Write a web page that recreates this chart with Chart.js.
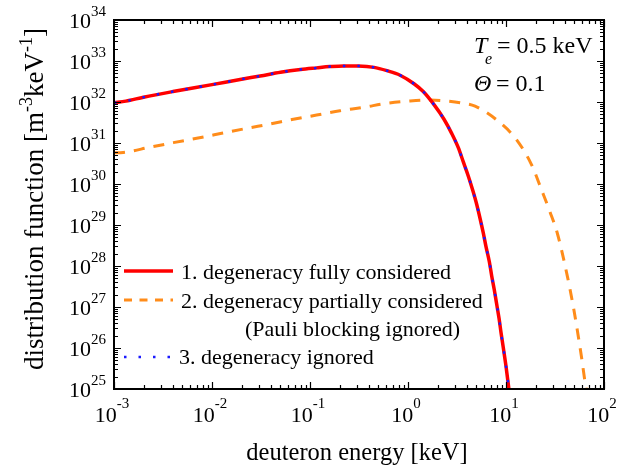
<!DOCTYPE html>
<html><head><meta charset="utf-8">
<script src="https://cdn.jsdelivr.net/npm/chart.js@4/dist/chart.umd.min.js"></script>
<style>html,body{margin:0;padding:0;background:#fff;}canvas{display:block;}</style>
</head><body>
<canvas id="c" width="639" height="470"></canvas>
<script>
// ---- data ----
const energyFull = [0.001, 0.00132, 0.002, 0.004, 0.01, 0.02, 0.031, 0.05, 0.08, 0.117, 0.16, 0.22, 0.31, 0.45, 0.61, 0.83, 1.16, 1.43, 1.85, 2.33, 2.79, 3.26, 3.66, 4.12, 4.57, 5.02, 5.43, 5.87, 6.25, 6.76, 7.14, 7.6, 8.03, 8.49, 8.9, 9.37, 10.0, 10.7, 11.2];
const fFull = [9.6e31, 1.05e32, 1.31e32, 1.8e32, 2.65e32, 3.6e32, 4.3e32, 5.3e32, 6.2e32, 6.8e32, 7.3e32, 7.6e32, 7.55e32, 7.0e32, 5.8e32, 4.5e32, 2.75e32, 1.8e32, 8.5e31, 3.8e31, 1.72e31, 7.7e30, 3.5e30, 1.57e30, 7.1e29, 3.2e29, 1.46e29, 6.3e28, 2.96e28, 1.27e28, 5.8e27, 2.6e27, 1.18e27, 5.3e26, 2.36e26, 1.04e26, 3.6e25, 1.0e25, 4.0e24];
const energyPartial = [0.001, 0.00124, 0.00233, 0.00403, 0.00698, 0.01256, 0.0226, 0.039, 0.0676, 0.117, 0.202, 0.35, 0.607, 1.05, 1.68, 2.48, 3.5, 4.83, 8.34, 12.9, 18.3, 23.1, 28.1, 33.4, 42.3, 48.7, 52.6, 59.2, 64, 66, 70];
const fPartial = [5.8e30, 5.9e30, 7.9e30, 1.02e31, 1.3e31, 1.72e31, 2.28e31, 2.9e31, 3.8e31, 4.8e31, 6.1e31, 7.4e31, 9.3e31, 1.06e32, 1.12e32, 1.06e32, 9.5e31, 7.9e31, 3.4e31, 1.18e31, 2.9e30, 7.1e29, 2.1e29, 6.3e28, 5.6e27, 1.0e27, 3.4e26, 5.6e25, 1.5e25, 1.0e25, 3.0e24];
const energyIgnored = [0.001, 0.00132, 0.002, 0.004, 0.01, 0.02, 0.031, 0.05, 0.08, 0.117, 0.16, 0.22, 0.31, 0.45, 0.61, 0.83, 1.16, 1.43, 1.85, 2.33, 2.79, 3.26, 3.66, 4.12, 4.57, 5.02, 5.43, 5.87, 6.25, 6.76, 7.14, 7.6, 8.03, 8.49, 8.9, 9.37, 10.0, 10.7, 11.2];
const fIgnored = [9.6e31, 1.05e32, 1.31e32, 1.8e32, 2.65e32, 3.6e32, 4.3e32, 5.3e32, 6.2e32, 6.8e32, 7.3e32, 7.6e32, 7.55e32, 7.0e32, 5.8e32, 4.5e32, 2.75e32, 1.8e32, 8.5e31, 3.8e31, 1.72e31, 7.7e30, 3.5e30, 1.57e30, 7.1e29, 3.2e29, 1.46e29, 6.3e28, 2.96e28, 1.27e28, 5.8e27, 2.6e27, 1.18e27, 5.3e26, 2.36e26, 1.04e26, 3.6e25, 1.0e25, 4.0e24];
const xTickExponents = [-3, -2, -1, 0, 1, 2];
const yTickExponents = [25, 26, 27, 28, 29, 30, 31, 32, 33, 34];
const seriesLabels = ["1. degeneracy fully considered", "2. degeneracy partially considered", "(Pauli blocking ignored)", "3. degeneracy ignored"];
const xTitle = "deuteron energy [keV]";
const yTitleParts = [["distribution function [m", false], ["-3", true], ["keV", false], ["-1", true], ["]", false]];

const RED = '#ff0000', ORANGE = '#ff8c1a', BLUE = '#1a1aff';
const FONT = '"Liberation Serif", "Times New Roman", serif';
const DASH_OR = [11, 9], DOT_BL = [2.5, 12];

const toXY = (xs, ys) => xs.map((v, i) => ({x: v, y: ys[i]}));

const deco = {
  id: 'deco',
  afterDraw(chart) {
    const ctx = chart.ctx, a = chart.chartArea, xs = chart.scales.x, ys = chart.scales.y;
    ctx.save();
    ctx.strokeStyle = '#000'; ctx.fillStyle = '#000';
    // ticks (inward, all four sides)
    ctx.lineWidth = 1.2;
    ctx.beginPath();
    xTickExponents.forEach((e, i) => {
      for (let m = 1; m <= 9; m++) {
        if (m > 1 && i === xTickExponents.length - 1) break;
        const px = Math.round(xs.getPixelForValue(m * Math.pow(10, e))) + 0.5;
        const L = m === 1 ? 7 : 4;
        ctx.moveTo(px, a.bottom); ctx.lineTo(px, a.bottom - L);
        ctx.moveTo(px, a.top); ctx.lineTo(px, a.top + L);
      }
    });
    yTickExponents.forEach((e, i) => {
      for (let m = 1; m <= 9; m++) {
        if (m > 1 && i === yTickExponents.length - 1) break;
        const py = Math.round(ys.getPixelForValue(m * Math.pow(10, e))) + 0.5;
        const L = m === 1 ? 7 : 4;
        ctx.moveTo(a.left, py); ctx.lineTo(a.left + L, py);
        ctx.moveTo(a.right, py); ctx.lineTo(a.right - L, py);
      }
    });
    ctx.stroke();
    // frame
    ctx.lineWidth = 2;
    ctx.strokeRect(a.left, a.top, a.right - a.left, a.bottom - a.top);

    // tick labels
    const big = '22px ' + FONT, small = '15px ' + FONT;
    ctx.textBaseline = 'alphabetic';
    yTickExponents.forEach(e => {
      const py = ys.getPixelForValue(Math.pow(10, e));
      const ex = String(e);
      ctx.font = small; const we = ctx.measureText(ex).width;
      ctx.font = big; const wb = ctx.measureText('10').width;
      const right = a.left - 8;
      ctx.textAlign = 'left';
      ctx.font = big; ctx.fillText('10', right - we - wb, py + 8);
      ctx.font = small; ctx.fillText(ex, right - we, py - 4);
    });
    xTickExponents.forEach(e => {
      const px = xs.getPixelForValue(Math.pow(10, e));
      const ex = String(e);
      ctx.font = small; const we = ctx.measureText(ex).width;
      ctx.font = big; const wb = ctx.measureText('10').width;
      const start = px - 2 - (wb + we) / 2;
      ctx.textAlign = 'left';
      ctx.font = big; ctx.fillText('10', start, a.bottom + 33);
      ctx.font = small; ctx.fillText(ex, start + wb, a.bottom + 19);
    });

    // axis titles
    ctx.font = '24.5px ' + FONT; ctx.textAlign = 'center';
    ctx.fillText(xTitle, (a.left + a.right) / 2 - 2, 460);
    // y title, rotated
    ctx.save();
    ctx.translate(43, 199);
    ctx.rotate(-Math.PI / 2);
    const tf = '27px ' + FONT, sf = '18px ' + FONT;
    let total = 0;
    yTitleParts.forEach(([t, sup]) => { ctx.font = sup ? sf : tf; total += ctx.measureText(t).width; });
    let cx = -total / 2;
    ctx.textAlign = 'left';
    yTitleParts.forEach(([t, sup]) => {
      ctx.font = sup ? sf : tf;
      ctx.fillText(t, cx, sup ? -11 : 0);
      cx += ctx.measureText(t).width;
    });
    ctx.restore();

    // legend
    const lx0 = 124, lx1 = 173;
    const rows = [271, 300, 328, 357];
    ctx.lineCap = 'butt';
    ctx.lineWidth = 3.5; ctx.strokeStyle = RED; ctx.setLineDash([]);
    ctx.beginPath(); ctx.moveTo(lx0, rows[0]); ctx.lineTo(lx1, rows[0]); ctx.stroke();
    ctx.lineWidth = 3; ctx.strokeStyle = ORANGE; ctx.setLineDash([8, 7.5]);
    ctx.beginPath(); ctx.moveTo(lx0, rows[1]); ctx.lineTo(lx1, rows[1]); ctx.stroke();
    ctx.lineWidth = 2.5; ctx.strokeStyle = BLUE; ctx.setLineDash(DOT_BL);
    ctx.beginPath(); ctx.moveTo(lx0, rows[3]); ctx.lineTo(lx1, rows[3]); ctx.stroke();
    ctx.setLineDash([]);
    ctx.fillStyle = '#000'; ctx.font = '22px ' + FONT; ctx.textAlign = 'left';
    ctx.fillText(seriesLabels[0], 181, rows[0] + 8);
    ctx.fillText(seriesLabels[1], 181, rows[1] + 8);
    ctx.fillText(seriesLabels[2], 245, rows[2] + 8);
    ctx.fillText(seriesLabels[3], 179, rows[3] + 7);

    // annotations
    ctx.font = 'italic 24px ' + FONT;
    ctx.fillText('T', 474, 53);
    ctx.font = 'italic 16px ' + FONT;
    ctx.fillText('e', 485, 64);
    ctx.font = '24px ' + FONT;
    ctx.fillText('= 0.5 keV', 497, 53);
    ctx.font = 'italic 24px ' + FONT;
    ctx.fillText('\u0398', 474, 91);
    ctx.font = '24px ' + FONT;
    ctx.fillText('= 0.1', 496, 91);
    ctx.restore();
  }
};

new Chart(document.getElementById('c'), {
  type: 'line',
  data: {
    datasets: [
      {label: seriesLabels[3], data: toXY(energyIgnored, fIgnored), borderColor: BLUE, borderWidth: 2.5, borderDash: DOT_BL, pointRadius: 0, cubicInterpolationMode: 'monotone', order: 0, fill: false},
      {label: seriesLabels[0], data: toXY(energyFull, fFull), borderColor: RED, borderWidth: 3.5, pointRadius: 0, cubicInterpolationMode: 'monotone', order: 1, fill: false},
      {label: seriesLabels[1], data: toXY(energyPartial, fPartial), borderColor: ORANGE, borderWidth: 3, borderDash: DASH_OR, pointRadius: 0, cubicInterpolationMode: 'monotone', order: 2, fill: false}
    ]
  },
  options: {
    responsive: false, animation: false, devicePixelRatio: 1,
    layout: {padding: {left: 114, right: 35, top: 20, bottom: 81}},
    plugins: {legend: {display: false}, tooltip: {enabled: false}},
    scales: {
      x: {type: 'logarithmic', min: 1e-3, max: 1e2, ticks: {display: false}, grid: {display: false, drawTicks: false}, border: {display: false}},
      y: {type: 'logarithmic', min: 1e25, max: 1e34, ticks: {display: false}, grid: {display: false, drawTicks: false}, border: {display: false}}
    }
  },
  plugins: [deco]
});
</script>
</body></html>
